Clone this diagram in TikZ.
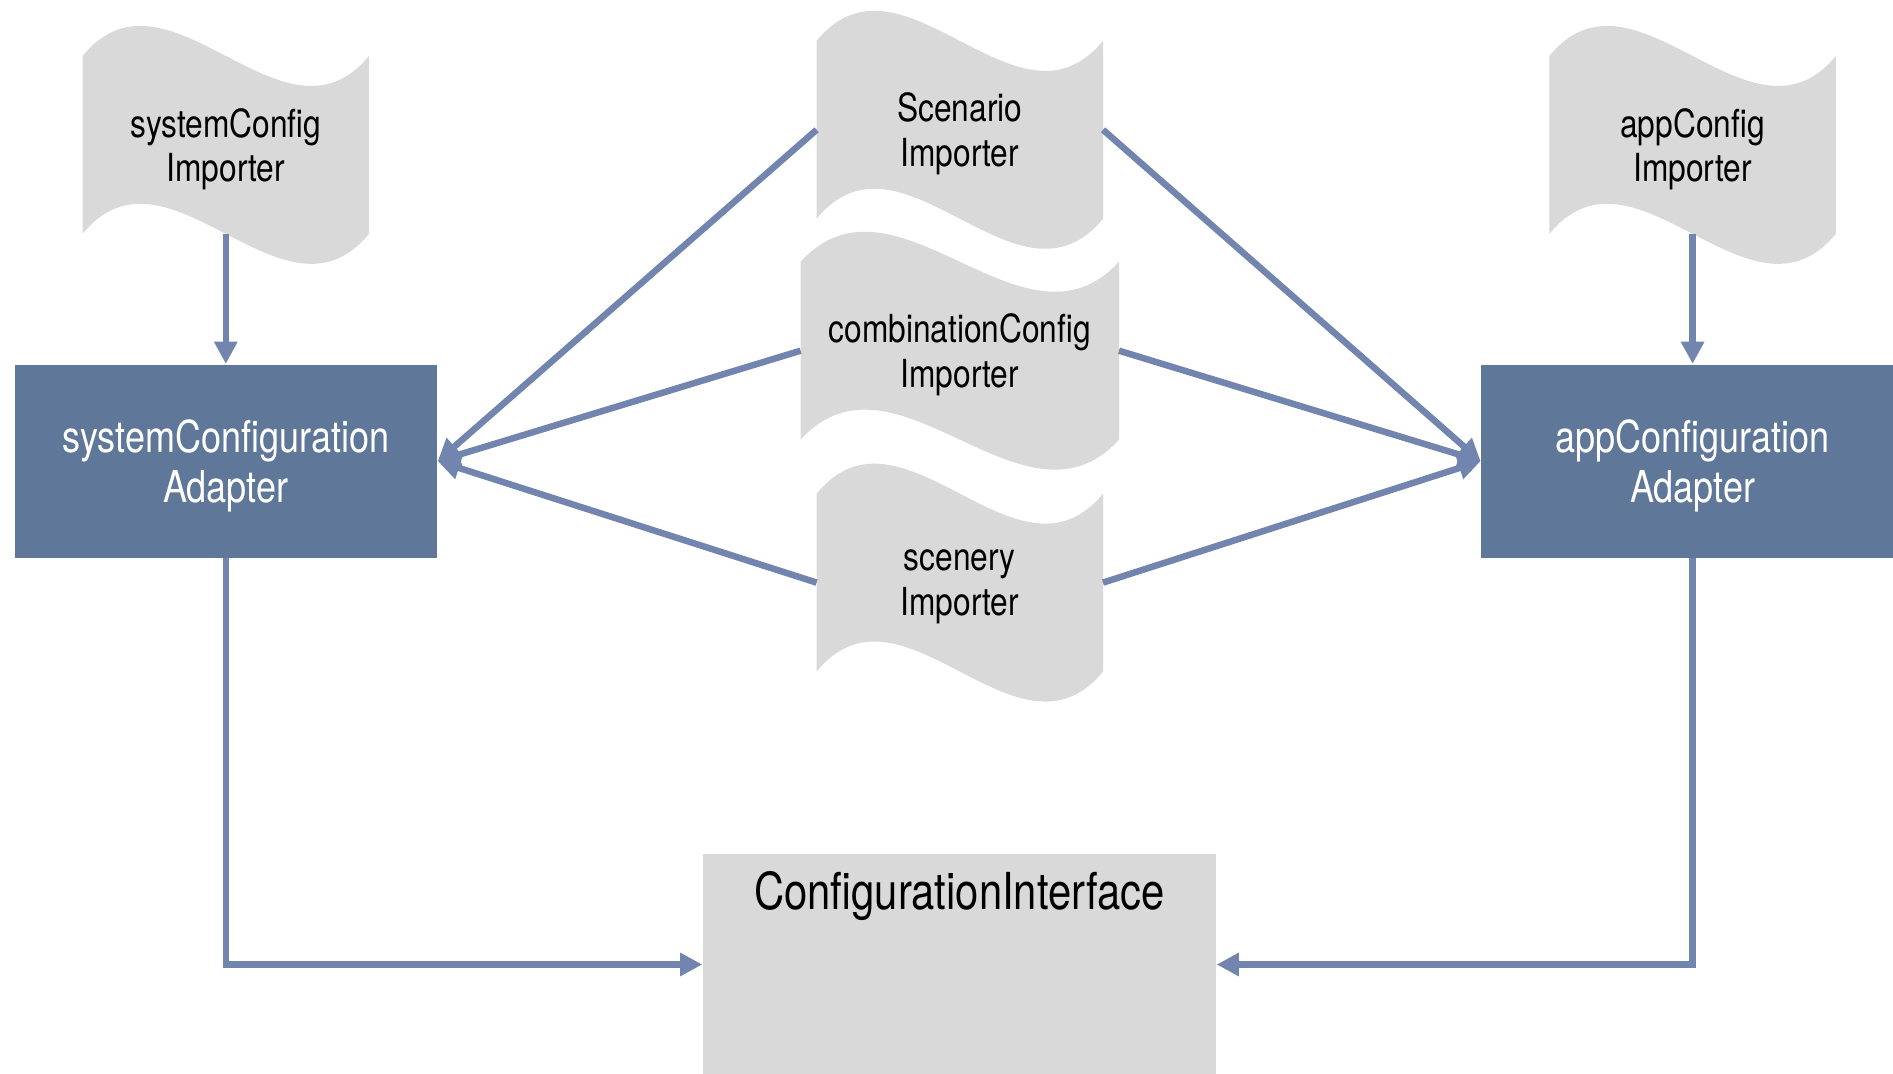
\documentclass[tikz,border=0pt]{standalone}
\usepackage{fontspec}
\setmainfont{TeX Gyre Heros}[FakeStretch=0.82]
\usepackage{tikz}
\usetikzlibrary{arrows.meta, positioning, backgrounds}
\definecolor{adaptBlue}{HTML}{5F7799}
\definecolor{linkBlue}{HTML}{7285AE}
\definecolor{impGray}{HTML}{D9D9D9}

% wavy importer sheet behind a node: #1 node, #2 control offset
\newcommand{\tapefill}[2]{%
  \fill[impGray] (#1.north west) .. controls +(#2,1.04) and +(-#2,-1.04) .. (#1.north east)
    -- (#1.south east) .. controls +(-#2,-1.04) and +(#2,1.04) .. (#1.south west) -- cycle;}

\begin{document}
\begin{tikzpicture}[
  node distance=0.5cm and 1cm,
  imp/.style={rectangle, minimum width=2.85cm, minimum height=1.765cm, inner sep=0pt, text depth=0pt, align=center, font=\fontsize{11}{12.7}\selectfont},
  adapter/.style={rectangle, fill=adaptBlue, text=white, minimum width=4.225cm, minimum height=1.932cm, text depth=0pt, align=center, font=\fontsize{12.5}{14.4}\selectfont},
  iface/.style={rectangle, fill=impGray, minimum width=5.13cm, inner xsep=0pt, inner ysep=0.2cm, text height=0.355cm, text depth=1.455cm, font=\fontsize{14.5}{16}\selectfont},
  arrow/.style={-{Triangle[length=6.3pt, width=6.3pt]}, line width=1.85pt, color=linkBlue},
]
\useasboundingbox (0,0) rectangle (18.93,10.73);

\node[imp] (sysimp) at (2.258,9.281) {systemConfig\\Importer};
\node[imp] (appimp) at (16.926,9.281) {appConfig\\Importer};

\node[imp] (scenario) at (9.598,9.432) {Scenario\\Importer};
\node[imp, minimum width=3.17cm, below=0.43cm of scenario] (combo) {combinationConfig\\Importer};
\node[imp, below=0.54cm of combo] (scenery) {scenery\\Importer};

\node[adapter, below=1.3cm of sysimp] (sysadapt) {systemConfiguration\\Adapter};
\node[adapter, below=1.3cm of appimp] (appadapt) {appConfiguration\\Adapter};

\node[iface] (confif) at (9.595,1.085) {ConfigurationInterface};

\begin{scope}[on background layer]
  \tapefill{sysimp}{0.855}
  \tapefill{appimp}{0.855}
  \tapefill{scenario}{0.855}
  \tapefill{combo}{0.95}
  \tapefill{scenery}{0.855}
\end{scope}

\draw[arrow] (sysimp) -- (sysadapt);
\draw[arrow] (appimp) -- (appadapt);

\draw[arrow] (scenario.west) -- (sysadapt.east);
\draw[arrow] (combo.west) -- (sysadapt.east);
\draw[arrow] (scenery.west) -- (sysadapt.east);
\draw[arrow] (scenario.east) -- (appadapt.west);
\draw[arrow] (combo.east) -- (appadapt.west);
\draw[arrow] (scenery.east) -- (appadapt.west);

\draw[arrow] (sysadapt.south) |- (confif.west);
\draw[arrow] (appadapt.south) |- (confif.east);

\end{tikzpicture}
\end{document}
